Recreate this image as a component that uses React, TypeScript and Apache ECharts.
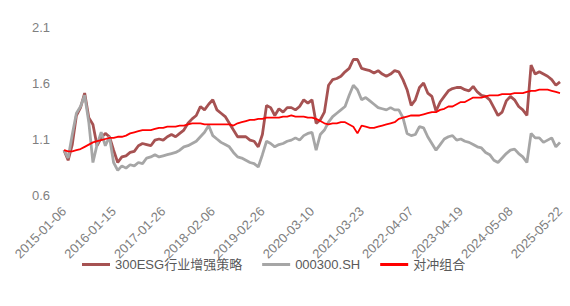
import React, { useEffect, useRef } from "react";
import * as echarts from "echarts";

const tickLabels = [
  "2015-01-06", "2016-01-15", "2017-01-26", "2018-02-06", "2019-02-26", "2020-03-10",
  "2021-03-23", "2022-04-07", "2023-04-19", "2024-05-08", "2025-05-22",
];
const ticksEvery = 12;

const seriesNames = ["300ESG行业增强策略", "000300.SH", "对冲组合"];

const strategy = [
  1.00, 0.91, 1.05, 1.31, 1.38, 1.51, 1.29, 1.23, 1.04, 1.11,
  1.15, 1.12, 1.00, 0.89, 0.94, 0.95, 0.98, 0.99, 1.04, 1.06,
  1.05, 1.04, 1.09, 1.10, 1.09, 1.12, 1.14, 1.12, 1.15, 1.18,
  1.24, 1.28, 1.31, 1.39, 1.36, 1.41, 1.45, 1.36, 1.33, 1.30,
  1.24, 1.18, 1.12, 1.12, 1.12, 1.09, 1.08, 1.03, 1.14, 1.40,
  1.38, 1.31, 1.37, 1.34, 1.38, 1.38, 1.36, 1.39, 1.45, 1.42,
  1.45, 1.24, 1.27, 1.34, 1.58, 1.63, 1.64, 1.66, 1.70, 1.73,
  1.81, 1.81, 1.73, 1.72, 1.71, 1.69, 1.71, 1.68, 1.66, 1.68,
  1.71, 1.70, 1.63, 1.54, 1.40, 1.45, 1.56, 1.60, 1.51, 1.48,
  1.35, 1.43, 1.48, 1.53, 1.55, 1.56, 1.56, 1.54, 1.53, 1.57,
  1.52, 1.49, 1.48, 1.45, 1.38, 1.31, 1.34, 1.44, 1.48, 1.45,
  1.39, 1.36, 1.31, 1.76, 1.68, 1.70, 1.68, 1.66, 1.63, 1.58,
  1.61,
];

const index300 = [
  1.00, 0.93, 1.14, 1.33, 1.39, 1.49, 1.25, 0.89, 1.05, 1.16,
  1.04, 1.12, 0.89, 0.82, 0.86, 0.84, 0.87, 0.86, 0.89, 0.88,
  0.93, 0.94, 0.96, 0.94, 0.95, 0.96, 0.97, 0.98, 1.00, 1.03,
  1.04, 1.06, 1.08, 1.12, 1.16, 1.22, 1.13, 1.10, 1.07, 1.05,
  1.03, 0.98, 0.94, 0.93, 0.91, 0.89, 0.88, 0.85, 0.96, 1.08,
  1.06, 1.03, 1.05, 1.06, 1.08, 1.09, 1.11, 1.09, 1.13, 1.15,
  1.16, 1.00, 1.14, 1.18, 1.25, 1.30, 1.33, 1.36, 1.39, 1.49,
  1.58, 1.54, 1.45, 1.47, 1.44, 1.41, 1.38, 1.37, 1.36, 1.38,
  1.36, 1.36, 1.29, 1.15, 1.13, 1.14, 1.21, 1.20, 1.12, 1.06,
  1.00, 1.05, 1.10, 1.12, 1.13, 1.09, 1.10, 1.08, 1.07, 1.05,
  1.03, 1.02, 0.98, 0.96, 0.91, 0.89, 0.93, 0.97, 1.00, 1.01,
  0.97, 0.94, 0.89, 1.15, 1.11, 1.11, 1.07, 1.09, 1.11, 1.03,
  1.07,
];

const hedge = [
  1.00, 0.99, 0.99, 1.00, 1.01, 1.03, 1.05, 1.07, 1.08, 1.09,
  1.10, 1.11, 1.11, 1.12, 1.12, 1.13, 1.15, 1.16, 1.17, 1.18,
  1.18, 1.18, 1.19, 1.20, 1.20, 1.21, 1.21, 1.21, 1.22, 1.22,
  1.23, 1.24, 1.24, 1.24, 1.23, 1.23, 1.23, 1.23, 1.23, 1.23,
  1.23, 1.22, 1.24, 1.25, 1.26, 1.27, 1.27, 1.28, 1.28, 1.29,
  1.29, 1.29, 1.29, 1.30, 1.30, 1.31, 1.30, 1.30, 1.30, 1.29,
  1.29, 1.28, 1.26, 1.24, 1.23, 1.24, 1.24, 1.25, 1.25, 1.23,
  1.21, 1.15, 1.22, 1.21, 1.20, 1.20, 1.21, 1.22, 1.23, 1.24,
  1.25, 1.28, 1.29, 1.30, 1.31, 1.31, 1.31, 1.32, 1.33, 1.34,
  1.34, 1.36, 1.37, 1.39, 1.39, 1.41, 1.43, 1.43, 1.45, 1.47,
  1.47, 1.47, 1.48, 1.49, 1.49, 1.49, 1.50, 1.50, 1.50, 1.51,
  1.51, 1.51, 1.52, 1.53, 1.53, 1.54, 1.54, 1.54, 1.53, 1.52,
  1.51,
];

const colors = ["#A65252", "#A6A6A6", "#FF0000"];
const FONT = "'Liberation Sans', 'Noto Sans CJK SC', sans-serif";

export default function App() {
  const ref = useRef<HTMLDivElement>(null);
  useEffect(() => {
    if (!ref.current) return;
    const chart = echarts.init(ref.current, undefined, { renderer: "svg" });
    const toPairs = (arr: number[]) => arr.map((v, i) => [i, v]);
    const lastIdx = (tickLabels.length - 1) * ticksEvery;
    chart.setOption({
      animation: false,
      backgroundColor: "#ffffff",
      textStyle: { fontFamily: FONT },
      grid: { left: 64, right: 10, top: 27, bottom: 111, containLabel: false },
      legend: {
        left: 77,
        top: 253,
        icon: "rect",
        itemWidth: 28,
        itemHeight: 3,
        itemGap: 20,
        textStyle: { color: "#595959", fontSize: 13, fontFamily: FONT },
        data: seriesNames,
      },
      xAxis: {
        type: "value",
        min: 0,
        max: lastIdx,
        interval: ticksEvery,
        axisLine: { show: false },
        axisTick: { show: false },
        splitLine: { show: false },
        axisLabel: {
          rotate: 45,
          margin: 14,
          color: "#7F7F7F",
          fontSize: 13,
          fontFamily: FONT,
          formatter: (v: number) => tickLabels[Math.round(v / ticksEvery)] ?? "",
        },
      },
      yAxis: {
        type: "value",
        min: 0.6,
        max: 2.1,
        interval: 0.5,
        axisLine: { show: false },
        axisTick: { show: false },
        splitLine: { show: false },
        axisLabel: {
          margin: 14,
          color: "#7F7F7F",
          fontSize: 13,
          fontFamily: FONT,
          formatter: (v: number) => v.toFixed(1),
        },
      },
      series: [
        {
          name: seriesNames[0],
          type: "line",
          data: toPairs(strategy),
          showSymbol: false,
          lineStyle: { color: colors[0], width: 2.8 },
          itemStyle: { color: colors[0] },
        },
        {
          name: seriesNames[1],
          type: "line",
          data: toPairs(index300),
          showSymbol: false,
          lineStyle: { color: colors[1], width: 2.8 },
          itemStyle: { color: colors[1] },
        },
        {
          name: seriesNames[2],
          type: "line",
          data: toPairs(hedge),
          showSymbol: false,
          lineStyle: { color: colors[2], width: 1.8 },
          itemStyle: { color: colors[2] },
        },
      ],
    });
    return () => chart.dispose();
  }, []);
  return (
    <div
      ref={ref}
      style={{ position: "fixed", left: 0, top: 0, width: 570, height: 306 }}
    />
  );
}
